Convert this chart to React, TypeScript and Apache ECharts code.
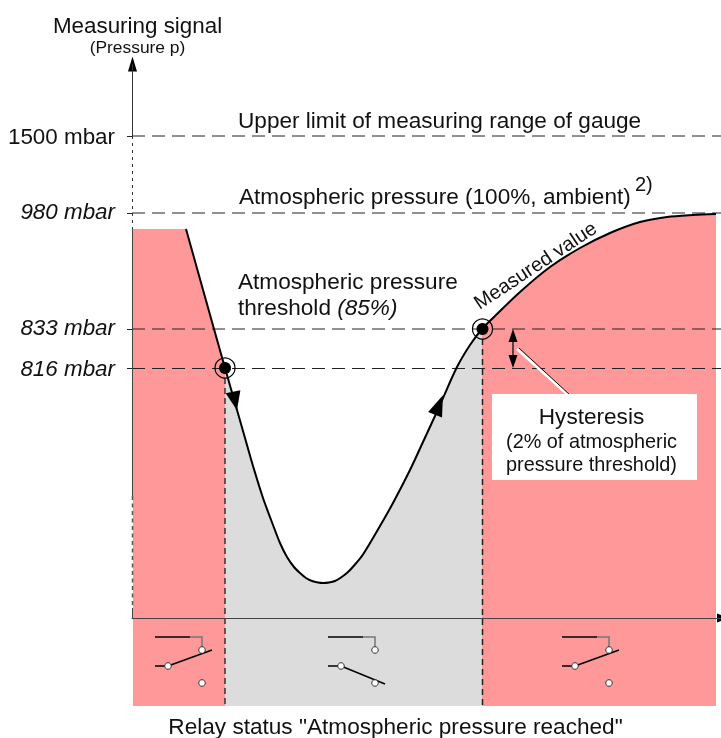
import React, { useEffect, useRef } from "react";
import * as echarts from "echarts";

const FONT = "'Liberation Sans', Arial, sans-serif";

// Measuring signal plotted against time (schematic units; the pressure scale of the sketch is not linear)
const fallingStart = [[1, 389], [54, 389], [93, 250]];
const fallingFlank = [
  [54, 389], [82, 289], [93, 250], [105, 208], [113, 180], [121, 152], [131, 120],
  [141, 93], [148, 75], [155, 61], [162, 51], [168, 45], [174, 40], [180, 37], [186, 35.5],
];
const risingFlank = [
  [191, 35], [197, 35.5], [203, 37], [209, 40.5], [216, 46], [223, 53.5], [231, 63.5],
  [248, 92], [261, 115], [278, 148], [291, 176], [303, 202], [311, 220], [325, 251], [338, 273],
  [350, 289],
];
const recovery = [
  [361, 300], [388, 326], [418, 351], [448, 370], [478, 385], [508, 396], [535, 401],
  [561, 403], [584, 404],
];
const curve = [...fallingFlank, ...risingFlank, ...recovery];
const curveDown = [...fallingFlank.slice(2), ...risingFlank];
const curveUp = [[350, 289], ...recovery];

const pressureLevels = [482, 405, 289, 250];
const pressureLabels = ["1500 mbar", "980 mbar", "833 mbar", "816 mbar"];
const labelStyles = ["n", "u", "u", "i"];
const dashedLevels = [482, 405, 289, 249.5];
const switchPoints = [[93, 250], [350.5, 289]];

// x, level, rotation, width, height
const arrowHeads = [
  [103, 217, -168, 15, 19],
  [307, 213, -22, 15, 21],
  [0.5, 554, 0, 9, 15],
  [591, 0, -90, 9, 12],
  [381, 282.5, 0, 9, 13],
  [381, 256.5, 180, 9, 13],
];

// Relay state per section: start of the switch, its level, closed (1) or open (0)
const relayStates = [
  [23, -19, 1],
  [196, -19, 0],
  [430, -19, 1],
];

function lineSeries(data: number[][], color: string, width: number, extra: any = {}) {
  return {
    type: "line",
    data,
    showSymbol: false,
    silent: true,
    clip: false,
    lineStyle: { color, width, ...(extra.dash ? { type: extra.dash } : {}) },
    z: extra.z ?? 3,
    smooth: extra.smooth ?? false,
    ...(extra.area ? { areaStyle: { color: extra.area, opacity: 1, origin: -88 } } : {}),
  };
}

function text(t: string, x: number, y: number, size: number, extra: any = {}) {
  return {
    type: "text",
    z: 20,
    x,
    y,
    rotation: extra.rotation ?? 0,
    style: {
      text: t,
      fontFamily: FONT,
      fontSize: size,
      fontStyle: extra.italic ? "italic" : "normal",
      fill: "#111",
      align: extra.align ?? "left",
      verticalAlign: "middle",
      ...(extra.rich ? { rich: extra.rich } : {}),
    },
  };
}

function renderSwitch(_: any, api: any) {
  const [x, y] = api.coord([api.value(0), api.value(1)]);
  const closed = api.value(2) === 1;
  const black = { stroke: "#000", lineWidth: 1.5 };
  const grey = { stroke: "#777", lineWidth: 1.5 };
  const dot = (cx: number, cy: number) => ({
    type: "circle",
    z2: 5,
    shape: { cx, cy, r: 3.3 },
    style: { fill: "#fff", stroke: "#333", lineWidth: 1 },
  });
  return {
    type: "group",
    x,
    y,
    children: [
      { type: "line", shape: { x1: 0, y1: 0, x2: 35, y2: 0 }, style: black },
      { type: "polyline", shape: { points: [[35, 0], [47, 0], [47, 13]] }, style: { ...grey, fill: "none" } },
      { type: "line", shape: { x1: 0, y1: 29, x2: 13, y2: 29 }, style: black },
      closed
        ? { type: "line", shape: { x1: 13, y1: 29, x2: 57, y2: 13 }, style: black }
        : { type: "line", shape: { x1: 13, y1: 29, x2: 57, y2: 47 }, style: black },
      dot(47, 13),
      dot(13, 29),
      dot(47, 46),
    ],
  };
}

export default function App() {
  const ref = useRef<HTMLDivElement>(null);
  useEffect(() => {
    const chart = echarts.init(ref.current!, undefined, { renderer: "svg" });
    chart.setOption({
      animation: false,
      grid: { left: 132, right: 0, top: 0, bottom: 0 },
      xAxis: {
        type: "value",
        min: 0,
        max: 589,
        splitLine: { show: false },
        axisTick: { show: false },
        axisLabel: { show: false },
        axisLine: { show: true, onZero: true, lineStyle: { color: "#444", width: 1 } },
        z: 6,
      },
      yAxis: {
        type: "value",
        min: -120,
        max: 618,
        splitLine: { show: false },
        axisLine: { show: false },
        axisTick: {
          show: true,
          customValues: pressureLevels,
          length: 5,
          lineStyle: { color: "#222", width: 1 },
        },
        axisLabel: {
          show: true,
          customValues: pressureLevels,
          margin: 17,
          formatter: (v: number) => {
            const i = pressureLevels.indexOf(v);
            return i < 0 ? "" : `{${labelStyles[i]}|${pressureLabels[i]}}`;
          },
          rich: {
            n: { fontFamily: FONT, fontSize: 22.4, color: "#111" },
            i: { fontFamily: FONT, fontSize: 22.4, fontStyle: "italic", color: "#111" },
            u: { fontFamily: FONT, fontSize: 22.4, fontStyle: "italic", color: "#111", padding: [0, 0, 4, 0] },
          },
        },
      },
      graphic: [
        { type: "rect", z: 15, shape: { x: 492, y: 394, width: 205, height: 86 }, style: { fill: "#fff" } },
        text("Measuring signal", 137.5, 25, 22.4, { align: "center" }),
        text("(Pressure p)", 137.5, 47, 17.4, { align: "center" }),
        text("Upper limit of measuring range of gauge", 238, 120, 22.6),
        text("Atmospheric pressure (100%, ambient)", 239, 196, 22.6),
        text("2)", 635, 184, 20),
        text("Atmospheric pressure", 238, 281, 22.6),
        text("threshold {i|(85%)}", 238, 307, 22.6, {
          rich: { i: { fontFamily: FONT, fontSize: 22.6, fontStyle: "italic", fill: "#111" } },
        }),
        text("Measured value", 535, 265, 20, { align: "center", rotation: (33.5 * Math.PI) / 180 }),
        text("Hysteresis", 591.5, 416, 22.6, { align: "center" }),
        text("(2% of atmospheric", 591.5, 441, 19.85, { align: "center" }),
        text("pressure threshold)", 591.5, 464, 19.85, { align: "center" }),
        text('Relay status "Atmospheric pressure reached"', 395.5, 726, 22.6, { align: "center" }),
      ],
      series: [
        lineSeries(fallingStart, "transparent", 0, { area: "#ff9999", z: 1 }),
        lineSeries(curveDown, "transparent", 0, { area: "#dcdcdc", z: 1, smooth: 0.3 }),
        lineSeries(curveUp, "transparent", 0, { area: "#ff9999", z: 1, smooth: 0.3 }),

        // y axis, partly dotted as in the sketch
        lineSeries([[0.5, 554], [0.5, 482]], "#333", 1, { z: 6 }),
        lineSeries([[0.5, 482], [0.5, 389]], "#333", 1, { z: 6, dash: [3, 4] }),
        lineSeries([[0.5, 389], [0.5, 122]], "#444", 1, { z: 6 }),
        lineSeries([[0.5, 122], [0.5, 10]], "#555", 1.5, { z: 6, dash: [4, 3.5] }),
        lineSeries([[0.5, 10], [0.5, 0]], "#444", 1, { z: 6 }),

        ...dashedLevels.map((v) => lineSeries([[0, v], [589, v]], "#222", 1, { z: 2, dash: [13, 7] })),
        lineSeries([[93, 250], [93, -88]], "#333", 1.5, { z: 2, dash: [6, 4] }),
        lineSeries([[350.5, 289], [350.5, -88]], "#222", 1.5, { z: 2, dash: [6, 4] }),

        lineSeries(curve, "#000", 2, { z: 4, smooth: 0.3 }),

        // hysteresis span and its leader
        lineSeries([[381, 282], [381, 257]], "#222", 1.5, { z: 4 }),
        lineSeries([[385, 269], [436, 223]], "#fff", 2.5, { z: 4 }),
        lineSeries([[387, 270], [438, 223]], "#111", 1, { z: 4 }),

        {
          type: "scatter",
          silent: true,
          clip: false,
          z: 5,
          data: arrowHeads.map((a) => ({
            value: [a[0], a[1]],
            symbol: "triangle",
            symbolRotate: a[2],
            symbolSize: [a[3], a[4]],
          })),
          itemStyle: { color: "#000", opacity: 1 },
        },
        {
          type: "scatter",
          silent: true,
          z: 5,
          symbol: "circle",
          symbolSize: 12,
          data: switchPoints,
          itemStyle: { color: "#000", opacity: 1 },
        },
        {
          type: "scatter",
          silent: true,
          z: 5,
          symbol: "circle",
          symbolSize: 20,
          data: switchPoints,
          itemStyle: { color: "transparent", borderColor: "#000", borderWidth: 1.2, opacity: 1 },
        },
        {
          type: "custom",
          silent: true,
          z: 5,
          coordinateSystem: "cartesian2d",
          renderItem: renderSwitch,
          data: relayStates,
        },
      ],
    });
    return () => chart.dispose();
  }, []);
  return <div ref={ref} style={{ position: "fixed", left: 0, top: 0, width: 721, height: 738 }} />;
}
